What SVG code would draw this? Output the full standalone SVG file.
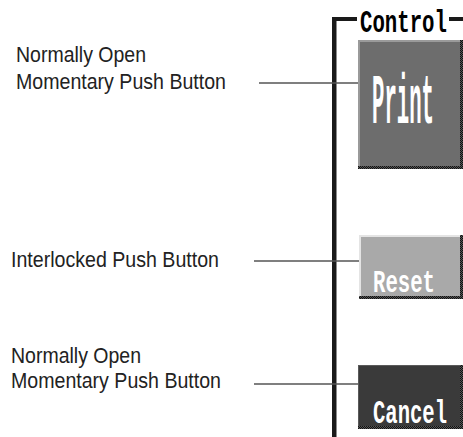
<svg xmlns="http://www.w3.org/2000/svg" width="463" height="437" viewBox="0 0 463 437">
<defs>
<pattern id="dots" width="2" height="2" patternUnits="userSpaceOnUse">
<rect width="2" height="2" fill="#555"/>
<rect width="1" height="1" fill="#111"/>
<rect x="1" y="1" width="1" height="1" fill="#111"/>
</pattern>
<style>
.lbl{font-family:"Liberation Sans",Arial,sans-serif;font-size:22.5px;fill:#222;}
.btn{font-family:"Liberation Mono","Courier New",monospace;font-weight:bold;fill:#fff;}
.conn{stroke:#555;stroke-width:1.5;fill:none;}
</style>
</defs>
<rect width="463" height="437" fill="#fff"/>
<g id="frame">
<rect x="332" y="17" width="4.5" height="420" fill="#1a1a1a"/>
<rect x="332" y="17" width="25" height="4" fill="#1a1a1a"/>
<rect x="449" y="17" width="14" height="4" fill="#1a1a1a"/>
<text transform="translate(360,32) scale(0.647,1)" x="0" y="0" font-family="Liberation Mono,monospace" font-weight="bold" font-size="32" fill="#000">Control</text>
</g>
<g id="connectors">
<line class="conn" x1="259" y1="83" x2="358" y2="83"/>
<line class="conn" x1="254" y1="261" x2="359" y2="261"/>
<line class="conn" x1="254" y1="384" x2="358" y2="384"/>
</g>
<g id="label-print">
<text class="lbl" x="16" y="62" textLength="130" lengthAdjust="spacingAndGlyphs">Normally Open</text>
<text class="lbl" x="16" y="89" textLength="210" lengthAdjust="spacingAndGlyphs">Momentary Push Button</text>
</g>
<g id="label-reset">
<text class="lbl" x="11" y="267" textLength="208" lengthAdjust="spacingAndGlyphs">Interlocked Push Button</text>
</g>
<g id="label-cancel">
<text class="lbl" x="11" y="363" textLength="130" lengthAdjust="spacingAndGlyphs">Normally Open</text>
<text class="lbl" x="11" y="388" textLength="210" lengthAdjust="spacingAndGlyphs">Momentary Push Button</text>
</g>
<g id="btn-print">
<rect x="358" y="40" width="105" height="129" fill="#9a9a9a"/>
<rect x="360" y="42" width="103" height="127" fill="#6d6d6d"/>
<rect x="460" y="40" width="3" height="129" fill="url(#dots)"/>
<rect x="358" y="166" width="105" height="3" fill="url(#dots)"/>
<text class="btn" transform="translate(372,123) scale(0.295,1)" x="0" y="0" font-size="70" font-weight="normal">Print</text>
</g>
<g id="btn-reset">
<rect x="359" y="235" width="104" height="64" fill="#e4e4e4"/>
<rect x="361" y="237" width="102" height="62" fill="#a9a9a9"/>
<rect x="460" y="235" width="3" height="64" fill="url(#dots)"/>
<rect x="359" y="296" width="104" height="3" fill="url(#dots)"/>
<text class="btn" transform="translate(373,292) scale(0.646,1)" x="0" y="0" font-size="32">Reset</text>
</g>
<g id="btn-cancel">
<rect x="358" y="365" width="105" height="64" fill="#5a5a5a"/>
<rect x="359" y="366" width="104" height="63" fill="#3a3a3a"/>
<rect x="460" y="365" width="3" height="64" fill="url(#dots)"/>
<rect x="358" y="426" width="105" height="3" fill="url(#dots)"/>
<text class="btn" transform="translate(373,423) scale(0.623,1)" x="0" y="0" font-size="33">Cancel</text>
</g>
</svg>
